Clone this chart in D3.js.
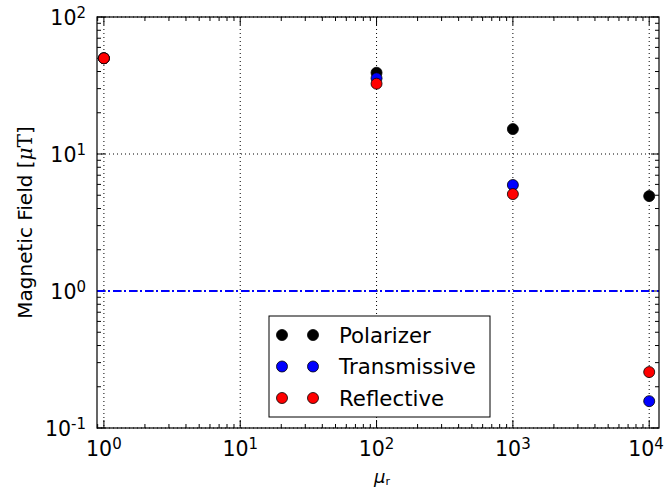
<!DOCTYPE html>
<html>
<head>
<meta charset="utf-8">
<script src="https://cdn.jsdelivr.net/npm/d3@7"></script>
<style>
body{margin:0;background:#fff;}
text{font-family:"DejaVu Sans",sans-serif;}
</style>
</head>
<body>
<div id="container"></div>
<script>
let w=665;
let h=493;

// data
let mu=[1,100,1000,10000];
let polarizer=[50,39.2,15.2,4.93];
let transmissive=[50,35.7,5.94,0.157];
let reflective=[50,32.6,5.1,0.256];
let seriesNames=["Polarizer","Transmissive","Reflective"];
let seriesColors=["black","blue","red"];
let xTicks=[1,10,100,1000,10000];
let yTicks=[0.1,1,10,100];
let limitLine=1;

let pLeft=97, pTop=17, pRight=659, pBottom=428;

let x=d3.scaleLog().domain([0.89,11800]).range([pLeft,pRight]);
let y=d3.scaleLog().domain([0.1,100]).range([pBottom,pTop]);

let viz=d3.select("#container")
  .append("svg")
  .attr("width",w)
  .attr("height",h);

// grid
viz.append("g").selectAll("line").data(xTicks).enter()
  .append("line")
  .attr("x1",d=>x(d)).attr("x2",d=>x(d))
  .attr("y1",pTop).attr("y2",pBottom)
  .attr("stroke","black").attr("stroke-width",1)
  .attr("stroke-dasharray","1,3");
viz.append("g").selectAll("line").data(yTicks).enter()
  .append("line")
  .attr("x1",pLeft).attr("x2",pRight)
  .attr("y1",d=>y(d)).attr("y2",d=>y(d))
  .attr("stroke","black").attr("stroke-width",1)
  .attr("stroke-dasharray","1,3");

// minor ticks
function minors(scale){
  let out=[];
  let d=scale.domain();
  for(let e=-2;e<=5;e++){
    for(let m=2;m<=9;m++){
      let v=m*Math.pow(10,e);
      if(v>d[0]&&v<d[1]) out.push(v);
    }
  }
  return out;
}
let ticks=viz.append("g").attr("stroke","black").attr("stroke-width",1);
minors(x).forEach(function(v){
  ticks.append("line").attr("x1",x(v)).attr("x2",x(v)).attr("y1",pBottom).attr("y2",pBottom-4);
  ticks.append("line").attr("x1",x(v)).attr("x2",x(v)).attr("y1",pTop).attr("y2",pTop+4);
});
minors(y).forEach(function(v){
  ticks.append("line").attr("y1",y(v)).attr("y2",y(v)).attr("x1",pLeft).attr("x2",pLeft+4);
  ticks.append("line").attr("y1",y(v)).attr("y2",y(v)).attr("x1",pRight).attr("x2",pRight-4);
});
xTicks.forEach(function(v){
  ticks.append("line").attr("x1",x(v)).attr("x2",x(v)).attr("y1",pBottom).attr("y2",pBottom-8);
  ticks.append("line").attr("x1",x(v)).attr("x2",x(v)).attr("y1",pTop).attr("y2",pTop+8);
});
yTicks.forEach(function(v){
  ticks.append("line").attr("y1",y(v)).attr("y2",y(v)).attr("x1",pLeft).attr("x2",pLeft+8);
  ticks.append("line").attr("y1",y(v)).attr("y2",y(v)).attr("x1",pRight).attr("x2",pRight-8);
});

// tick labels
function powLabel(sel,v){
  let e=Math.round(Math.log10(v));
  sel.append("tspan").text("10");
  sel.append("tspan").attr("dy","-0.45em").attr("font-size",15).text(e);
}
xTicks.forEach(function(v){
  let t=viz.append("text").attr("x",Math.min(x(v),w-19)).attr("y",456)
    .attr("text-anchor","middle").attr("font-size",20.5).attr("fill","black");
  powLabel(t,v);
});
yTicks.forEach(function(v){
  let t=viz.append("text").attr("x",86).attr("y",y(v)+7.5)
    .attr("text-anchor","end").attr("font-size",20.5).attr("fill","black");
  powLabel(t,v);
});

// limit line
viz.append("line")
  .attr("x1",pLeft).attr("x2",pRight)
  .attr("y1",y(limitLine)).attr("y2",y(limitLine))
  .attr("stroke","blue").attr("stroke-width",2)
  .attr("stroke-dasharray","8,3,2,3");

// points
let allSeries=[polarizer,transmissive,reflective];
allSeries.forEach(function(vals,i){
  viz.append("g").selectAll("circle").data(vals).enter()
    .append("circle")
    .attr("cx",(d,j)=>x(mu[j]))
    .attr("cy",d=>y(d))
    .attr("r",5.5)
    .attr("fill",seriesColors[i])
    .attr("stroke","black").attr("stroke-width",0.8);
});

// frame
viz.append("rect")
  .attr("x",pLeft).attr("y",pTop)
  .attr("width",pRight-pLeft).attr("height",pBottom-pTop)
  .attr("fill","none").attr("stroke","black").attr("stroke-width",1.2);

// legend
let legend=viz.append("g");
legend.append("rect")
  .attr("x",269).attr("y",316).attr("width",221).attr("height",101)
  .attr("fill","white").attr("stroke","black").attr("stroke-width",1);
seriesNames.forEach(function(name,i){
  let ly=335+i*31.5;
  [282,313].forEach(function(lx){
    legend.append("circle").attr("cx",lx).attr("cy",ly).attr("r",5.5)
      .attr("fill",seriesColors[i]).attr("stroke","black").attr("stroke-width",0.8);
  });
  legend.append("text").attr("x",339).attr("y",ly+7.5)
    .attr("font-size",21.3).attr("fill","black").text(name);
});

// axis labels
let yl=viz.append("text")
  .attr("transform","translate(32,"+((pTop+pBottom)/2)+") rotate(-90)")
  .attr("text-anchor","middle").attr("font-size",20).attr("fill","black");
yl.append("tspan").text("Magnetic Field [");
yl.append("tspan").attr("font-family","DejaVu Serif").attr("font-style","italic").text("μ");
yl.append("tspan").attr("font-family","DejaVu Serif").text("T");
yl.append("tspan").text("]");

let xl=viz.append("text")
  .attr("x",(pLeft+pRight)/2+4).attr("y",483)
  .attr("text-anchor","middle").attr("font-size",18).attr("fill","black")
  .attr("font-family","DejaVu Serif");
xl.append("tspan").attr("font-style","italic").text("μ");
xl.append("tspan").attr("font-size",11).attr("dy","2").text("r");
</script>
</body>
</html>
